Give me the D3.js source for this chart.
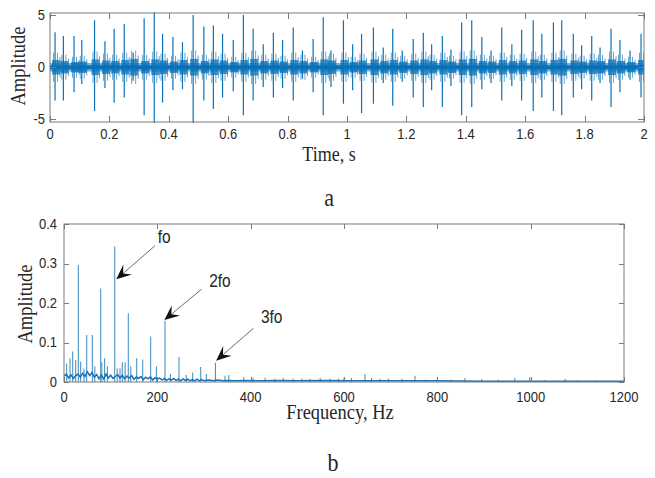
<!DOCTYPE html>
<html><head><meta charset="utf-8">
<script src="https://cdn.jsdelivr.net/npm/d3@7"></script>
<style>html,body{margin:0;padding:0;background:#fff;}svg{display:block;}</style>
</head><body>
<svg id="chart" width="655" height="478"></svg>
<script>
// ---------- DATA: time signal (a) ----------
const spikeTimes = [0.017,0.045,0.081,0.107,0.150,0.185,0.216,0.250,0.280,0.317,0.351,0.379,0.414,0.446,0.482,0.518,0.550,0.581,0.617,0.651,0.684,0.718,0.752,0.783,0.819,0.850,0.886,0.920,0.946,0.988,1.019,1.049,1.089,1.122,1.154,1.186,1.223,1.257,1.285,1.321,1.350,1.386,1.420,1.454,1.485,1.521,1.555,1.588,1.627,1.656,1.695,1.723,1.762,1.790,1.824,1.852,1.889,1.919,1.953,1.990];
const spikePos = [3.35,3.0,3.0,2.6,4.5,2.5,3.7,4.15,1.4,4.7,5.3,3.2,2.9,2.4,5.0,3.9,4.0,3.2,2.6,5.0,3.7,2.2,3.3,2.6,3.8,1.6,2.7,4.8,1.6,4.5,2.2,3.2,3.8,1.9,3.7,1.6,2.7,3.3,2.2,3.0,1.7,4.3,4.5,2.9,1.6,3.8,2.2,3.6,4.5,3.2,4.3,4.5,3.2,2.1,3.0,1.9,3.7,2.6,1.6,3.2];
const spikeNeg = [-3.2,-3.2,-2.4,-1.6,-4.2,-2.0,-3.4,-2.9,-1.3,-4.6,-5.4,-3.4,-2.2,-2.1,-5.4,-3.2,-4.0,-2.9,-2.3,-4.6,-3.2,-1.9,-2.9,-2.0,-3.2,-1.1,-2.4,-4.6,-1.9,-3.5,-2.2,-4.4,-3.5,-1.5,-3.7,-1.4,-2.9,-3.8,-2.2,-3.8,-1.8,-4.6,-3.8,-2.1,-1.5,-3.2,-1.8,-3.2,-4.2,-2.9,-4.2,-4.6,-2.9,-2.1,-3.2,-1.5,-3.8,-2.4,-1.2,-2.9];
const spikeBurst = [1.4,1.2,1.0,1.1,1.5,1.3,1.2,1.4,1.6,1.2,1.5,1.3,1.1,1.4,1.6,1.2,1.5,1.3,1.0,1.4,1.6,1.2,1.3,1.1,1.4,1.2,1.0,1.5,1.3,1.4,1.0,1.3,1.5,1.2,1.4,1.1,1.3,1.5,1.2,1.4,1.1,1.5,1.6,1.2,1.1,1.4,1.2,1.3,1.5,1.2,1.4,1.6,1.3,1.1,1.3,1.2,1.5,1.2,1.0,1.4];
const noiseLevel = 0.4;
const timeTicks = [0,0.2,0.4,0.6,0.8,1,1.2,1.4,1.6,1.8,2];
const timeTickLabels = ["0","0.2","0.4","0.6","0.8","1","1.2","1.4","1.6","1.8","2"];
const ampTicks = [-5,0,5];
const ampTickLabels = ["-5","0","5"];

// ---------- DATA: spectrum (b) ----------
const peakFreq = [5.7,12.9,18.6,25,30.7,35.7,42.8,48.6,60.7,66,78.6,81,87,93,108.6,114,120,125,131,137.8,143,155.7,168.6,185.7,198,216.4,228,246.4,262,275.7,292.9,305,324.5,345,353,385,405,431,452,470,491,510,527,549,570,588,600,616,645,659,677,695,724,752,775,800,830,859,895,930,966,998,1030,1074,1101,1140];
const peakAmp = [0.047,0.060,0.077,0.056,0.296,0.052,0.034,0.119,0.119,0.040,0.237,0.050,0.060,0.040,0.343,0.035,0.035,0.050,0.050,0.174,0.040,0.060,0.057,0.115,0.040,0.155,0.020,0.063,0.018,0.024,0.038,0.020,0.049,0.016,0.018,0.012,0.010,0.011,0.008,0.010,0.008,0.009,0.008,0.010,0.008,0.009,0.011,0.010,0.020,0.010,0.008,0.009,0.008,0.016,0.006,0.012,0.006,0.010,0.007,0.006,0.010,0.012,0.005,0.008,0.005,0.004];
const floorFreq = [0,5,10,15,20,25,30,35,40,45,50,55,60,65,70,75,80,85,90,95,100,105,110,115,120,125,130,135,140,145,150,155,160,165,170,175,180,185,190,195,200,205,210,215,220,225,230,235,240,245,250,255,260,265,270,275,280,285,290,295,300,310,320,330,340,350,370,390,420,460,500,560,620,700,800,900,1000,1100,1200];
const floorAmp = [0.015,0.020,0.010,0.018,0.009,0.016,0.020,0.012,0.022,0.014,0.026,0.016,0.024,0.012,0.019,0.008,0.018,0.008,0.020,0.010,0.017,0.009,0.014,0.019,0.010,0.017,0.008,0.015,0.010,0.016,0.007,0.013,0.009,0.014,0.006,0.012,0.008,0.013,0.005,0.011,0.007,0.010,0.005,0.009,0.004,0.008,0.005,0.009,0.004,0.007,0.003,0.008,0.004,0.007,0.003,0.006,0.003,0.007,0.003,0.006,0.003,0.005,0.003,0.005,0.003,0.004,0.003,0.004,0.003,0.004,0.003,0.004,0.003,0.003,0.003,0.002,0.002,0.002,0.002];
const freqTicks = [0,200,400,600,800,1000,1200];
const freqTickLabels = ["0","200","400","600","800","1000","1200"];
const specTicks = [0,0.1,0.2,0.3,0.4];
const specTickLabels = ["0","0.1","0.2","0.3","0.4"];
const annLabels = ["fo","2fo","3fo"];
const annTipF = [112,215,326];
const annTipA = [0.26,0.157,0.054];
const annTailF = [195,295,406];
const annTailA = [0.345,0.235,0.136];
const annTextF = [201,311,422];
const annTextA = [0.352,0.240,0.150];

// ---------- DRAWING ----------
const svg = d3.select("#chart");
const SY = 1.15; // vertical stretch of the reference image text
const sans = "'Liberation Sans', Arial, sans-serif";
const serif = "'Liberation Serif', 'Times New Roman', serif";
const frameColor = "#7a7a7a";
const textColor = "#262626";
const blue = "#0a72b8";

function label(g, x, y, str, size, family, anchor, rot) {
  return g.append("text")
    .attr("transform", `translate(${x},${y}) rotate(${rot||0}) scale(1,${SY})`)
    .attr("font-family", family).attr("font-size", size)
    .attr("fill", textColor).attr("text-anchor", anchor || "middle")
    .text(str);
}

function frame(g, x, y, xt, yt, tickLen) {
  const [x0, x1] = x.range(), [y0, y1] = y.range();
  g.append("rect").attr("x", x0).attr("y", y1).attr("width", x1 - x0).attr("height", y0 - y1)
    .attr("fill", "none").attr("stroke", frameColor).attr("stroke-width", 1);
  xt.forEach(v => {
    const px = Math.round(x(v)) + 0.5;
    g.append("line").attr("x1", px).attr("x2", px).attr("y1", y0).attr("y2", y0 - tickLen).attr("stroke", frameColor);
    g.append("line").attr("x1", px).attr("x2", px).attr("y1", y1).attr("y2", y1 + tickLen).attr("stroke", frameColor);
  });
  yt.forEach(v => {
    const py = Math.round(y(v)) + 0.5;
    g.append("line").attr("x1", x0).attr("x2", x0 + tickLen).attr("y1", py).attr("y2", py).attr("stroke", frameColor);
    g.append("line").attr("x1", x1).attr("x2", x1 - tickLen).attr("y1", py).attr("y2", py).attr("stroke", frameColor);
  });
}

// ===== Chart a =====
const gA = svg.append("g");
const xA = d3.scaleLinear().domain([0, 2]).range([50, 644]);
const yA = d3.scaleLinear().domain([-5.25, 5.2]).range([122, 13]);
svg.append("defs").append("clipPath").attr("id", "clipA")
  .append("rect").attr("x", 50).attr("y", 12).attr("width", 594).attr("height", 111);

const plotA = gA.append("g").attr("clip-path", "url(#clipA)");
plotA.append("path")
  .datum([0, 2])
  .attr("d", d3.area().x(d => xA(d)).y0(yA(-noiseLevel)).y1(yA(noiseLevel)))
  .attr("fill", blue).attr("opacity", 0.55);
plotA.append("path")
  .datum([0, 2])
  .attr("d", d3.area().x(d => xA(d)).y0(yA(-noiseLevel / 2)).y1(yA(noiseLevel / 2)))
  .attr("fill", blue);
spikeTimes.forEach((t, i) => {
  const b = spikeBurst[i];
  plotA.append("rect")
    .attr("x", xA(t) - 3).attr("width", 8)
    .attr("y", yA(b * 0.5)).attr("height", yA(-b * 0.5) - yA(b * 0.5))
    .attr("fill", blue).attr("opacity", 0.75);
  [-1.5, 2.5, 5].forEach((dx, k) => {
    plotA.append("line")
      .attr("x1", xA(t) + dx).attr("x2", xA(t) + dx)
      .attr("y1", yA(b * (k === 2 ? 0.7 : 1))).attr("y2", yA(-b * (k === 2 ? 0.7 : 1)))
      .attr("stroke", blue).attr("stroke-width", 0.9).attr("opacity", 0.7);
  });
  plotA.append("line")
    .attr("x1", xA(t)).attr("x2", xA(t))
    .attr("y1", yA(spikePos[i])).attr("y2", yA(spikeNeg[i]))
    .attr("stroke", blue).attr("stroke-width", 1.2);
});
frame(gA, xA, yA, timeTicks, ampTicks, 6);
timeTicks.forEach((v, i) => label(gA, xA(v), 139, timeTickLabels[i], 13, sans, "middle"));
ampTicks.forEach((v, i) => label(gA, 45, yA(v) + 4.5, ampTickLabels[i], 13, sans, "end"));
label(gA, 329, 161, "Time, s", 18, serif, "middle");
label(gA, 25, 66, "Amplitude", 18.5, serif, "middle", -90);
label(gA, 329, 206, "a", 22, serif, "middle");

// ===== Chart b =====
const gB = svg.append("g");
const xB = d3.scaleLinear().domain([0, 1200]).range([64, 624]);
const yB = d3.scaleLinear().domain([0, 0.4]).range([382, 224]);
svg.select("defs").append("clipPath").attr("id", "clipB")
  .append("rect").attr("x", 64).attr("y", 223).attr("width", 560).attr("height", 159);
const plotB = gB.append("g").attr("clip-path", "url(#clipB)");
peakFreq.forEach((f, i) => {
  plotB.append("line")
    .attr("x1", xB(f)).attr("x2", xB(f))
    .attr("y1", yB(0)).attr("y2", yB(peakAmp[i]))
    .attr("stroke", "#4b95c3").attr("stroke-width", 1.1);
});
plotB.append("path")
  .datum(floorFreq.map((f, i) => [f, floorAmp[i]]))
  .attr("d", d3.line().x(d => xB(d[0])).y(d => yB(d[1])))
  .attr("fill", "none").attr("stroke", "#1c6fb0").attr("stroke-width", 1.5);
frame(gB, xB, yB, freqTicks, specTicks, 5);
freqTicks.forEach((v, i) => label(gB, xB(v), 401.5, freqTickLabels[i], 13, sans, "middle"));
specTicks.forEach((v, i) => label(gB, 57, yB(v) + 4.5, specTickLabels[i], 13, sans, "end"));
label(gB, 340, 419, "Frequency, Hz", 18.5, serif, "middle");
label(gB, 32, 304, "Amplitude", 18.5, serif, "middle", -90);
label(gB, 333, 471, "b", 22, serif, "middle");

annLabels.forEach((lab, i) => {
  const tx = xB(annTipF[i]), ty = yB(annTipA[i]);
  const sx = xB(annTailF[i]), sy = yB(annTailA[i]);
  const dx = tx - sx, dy = ty - sy, L = Math.hypot(dx, dy);
  const ux = dx / L, uy = dy / L, nx = -uy, ny = ux;
  const hl = 15, hw = 6.5;
  gB.append("line").attr("x1", sx).attr("y1", sy).attr("x2", tx - ux * 8).attr("y2", ty - uy * 8)
    .attr("stroke", "#6e6e6e").attr("stroke-width", 1);
  const pts = [
    [tx, ty],
    [tx - ux * hl + nx * hw, ty - uy * hl + ny * hw],
    [tx - ux * hl * 0.6, ty - uy * hl * 0.6],
    [tx - ux * hl - nx * hw, ty - uy * hl - ny * hw]
  ];
  gB.append("polygon").attr("points", pts.map(p => p.join(",")).join(" ")).attr("fill", "#111");
  label(gB, xB(annTextF[i]), yB(annTextA[i]), lab, 15.5, sans, "start");
});
</script>
</body></html>
